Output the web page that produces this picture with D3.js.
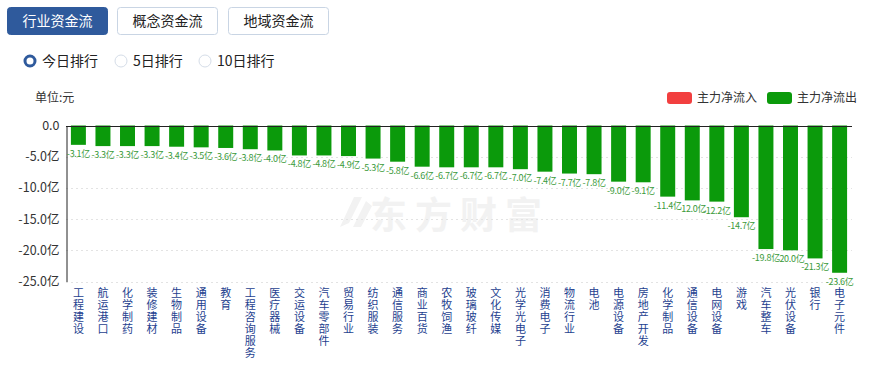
<!DOCTYPE html>
<html><head><meta charset="utf-8">
<script src="https://cdn.jsdelivr.net/npm/d3@7"></script>
<style>
body{margin:0;background:#fff;font-family:"Noto Sans CJK SC","Noto Sans",sans-serif;}
</style></head>
<body><svg id="c" width="869" height="366"></svg>
<script>
const categories=["工程建设","航运港口","化学制药","装修建材","生物制品","通用设备","教育","工程咨询服务","医疗器械","交运设备","汽车零部件","贸易行业","纺织服装","通信服务","商业百货","农牧饲渔","玻璃玻纤","文化传媒","光学光电子","消费电子","物流行业","电池","电源设备","房地产开发","化学制品","通信设备","电网设备","游戏","汽车整车","光伏设备","银行","电子元件"];
const values=[-3.1,-3.3,-3.3,-3.3,-3.4,-3.5,-3.6,-3.8,-4.0,-4.8,-4.8,-4.9,-5.3,-5.8,-6.6,-6.7,-6.7,-6.7,-7.0,-7.4,-7.7,-7.8,-9.0,-9.1,-11.4,-12.0,-12.2,-14.7,-19.8,-20.0,-21.3,-23.6];
const yTicks=[0,-5,-10,-15,-20,-25];
const tabs=["行业资金流","概念资金流","地域资金流"];
const radios=["今日排行","5日排行","10日排行"];
const legendItems=["主力净流入","主力净流出"];
const legendColors=["#f23f3f","#0b9a0b"];

const svg=d3.select("#c");
const font='"Noto Sans CJK SC","Noto Sans",sans-serif';

// tabs
const tabX=[7,117,228];
tabs.forEach((t,i)=>{
  const g=svg.append("g");
  g.append("rect").attr("x",tabX[i]+0.5).attr("y",7.5).attr("width",100).attr("height",27).attr("rx",3)
   .attr("fill",i===0?"#2f5a9c":"#fff").attr("stroke",i===0?"#2f5a9c":"#c9d5e4");
  g.append("text").attr("x",tabX[i]+50.5).attr("y",26).attr("text-anchor","middle")
   .attr("font-size",14).attr("font-family",font).attr("fill",i===0?"#fff":"#222").text(t);
});
// radios
const radX=[30,121,205];
radios.forEach((t,i)=>{
  if(i===0){
    svg.append("circle").attr("cx",radX[i]).attr("cy",61).attr("r",5).attr("fill","#fff").attr("stroke","#2f5a9c").attr("stroke-width",3);
  } else {
    svg.append("circle").attr("cx",radX[i]).attr("cy",61).attr("r",6).attr("fill","#fff").attr("stroke","#d5dde8").attr("stroke-width",1);
  }
  svg.append("text").attr("x",radX[i]+12).attr("y",66).attr("font-size",14).attr("font-family",font).attr("fill","#222").text(t);
});
svg.append("text").attr("x",35).attr("y",102).attr("font-size",12).attr("font-family",font).attr("fill","#333").text("单位:元");

// legend
const legX=[667,767];
legendItems.forEach((t,i)=>{
  svg.append("rect").attr("x",legX[i]).attr("y",92).attr("width",25).attr("height",12).attr("rx",3).attr("fill",legendColors[i]);
  svg.append("text").attr("x",legX[i]+30).attr("y",102).attr("font-size",12).attr("font-family",font).attr("fill","#333").text(t);
});

// watermark
const wm=svg.append("g");
wm.append("path").attr("d","M340,227 L354,197 L362,197 L349,223 Z M353,227 L366,201 L372,206 L361,227 Z").attr("fill","#f2f2f2");
wm.append("text").attr("x",370).attr("y",229).attr("font-size",37).attr("font-weight","bold").attr("letter-spacing",8)
  .attr("font-family",font).attr("fill","#f2f2f2").text("东方财富");

// scales
const x=d3.scaleBand().domain(categories).range([66,852]).paddingInner(0.39).paddingOuter(0.2);
const y=d3.scaleLinear().domain([-25,0]).range([281.5,125.5]);

// grid
svg.append("g").selectAll("line").data(yTicks.filter(d=>d!==0)).join("line")
  .attr("x1",66).attr("x2",852).attr("y1",d=>Math.round(y(d))+0.5).attr("y2",d=>Math.round(y(d))+0.5)
  .attr("stroke","#e3e3e3").attr("stroke-dasharray","2,3");

// y axis
const yAxis=d3.axisLeft(y).tickValues(yTicks).tickSize(0).tickPadding(7)
  .tickFormat(d=>d===0?"0.0":d.toFixed(1)+"亿");
const ya=svg.append("g").attr("transform","translate(66.5,0)").call(yAxis);
ya.select(".domain").attr("stroke","#222");
ya.selectAll("text").attr("font-size",12.5).attr("font-family",font).attr("fill","#333");

// bars
svg.append("g").selectAll("rect").data(values).join("rect")
  .attr("x",(d,i)=>x(categories[i])).attr("width",x.bandwidth())
  .attr("y",y(0)).attr("height",d=>y(d)-y(0)).attr("fill","#0b9a0b");

// zero line
svg.append("line").attr("x1",66).attr("x2",852).attr("y1",Math.round(y(0))+0.5).attr("y2",Math.round(y(0))+0.5).attr("stroke","#222");

// value labels
svg.append("g").selectAll("text").data(values).join("text")
  .attr("x",(d,i)=>x(categories[i])+x.bandwidth()/2).attr("y",d=>y(d)+12)
  .attr("text-anchor","middle").attr("font-size",9).attr("font-family",font).attr("fill","#3a9a3a")
  .attr("letter-spacing","-0.3").text(d=>d.toFixed(1)+"亿");

// x labels vertical, one character per line
const xl=svg.append("g").selectAll("g").data(categories).join("g")
  .attr("transform",d=>`translate(${x(d)+x.bandwidth()/2},0)`);
xl.each(function(d){
  const g=d3.select(this);
  Array.from(d).forEach((ch,j)=>{
    g.append("text").attr("x",0).attr("y",297+j*12).attr("text-anchor","middle")
     .attr("font-size",11).attr("font-family",font).attr("fill","#1e3f8f").text(ch);
  });
});
</script></body></html>
